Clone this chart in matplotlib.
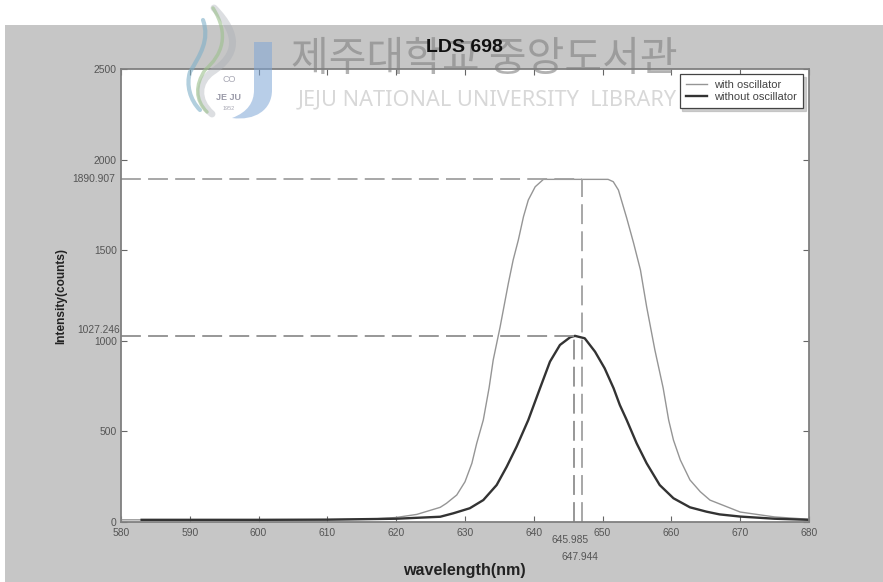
import matplotlib
matplotlib.use('Agg')
import matplotlib.pyplot as plt
from matplotlib.patches import PathPatch, Rectangle
from matplotlib.path import Path

plt.rcParams['font.family'] = ['Liberation Sans', 'DejaVu Sans']

W, H = 883, 582

# values
wl_with = [580, 590, 600, 610, 616, 620, 623, 626.4, 627.3, 628.8, 630, 631, 631.7, 632.66, 633.5, 634.1, 635.1,
           636.3, 637, 637.75, 638.5, 639.2, 640.2, 641.4, 645, 650.8, 651.55, 652.3, 653.5, 654.5, 655.5, 656.4,
           657.6, 658.8, 659.6, 660.3, 661.3, 662.7, 664.2, 665.6, 667, 670, 675, 680]
int_with = [12, 12, 12, 13, 15, 25, 42, 81, 103, 149, 222, 324, 434, 563, 740, 894, 1076,
            1317, 1446, 1556, 1685, 1777, 1850, 1890.9, 1890.9, 1890.9, 1878, 1832, 1678, 1540, 1391, 1188,
            949, 740, 563, 452, 342, 232, 167, 121, 100, 55, 28, 15]
wl_without = [583, 590, 600, 610, 620, 626.4, 628.3, 630.7, 632.66, 634.6, 636.06, 637.5, 639.2, 640.9, 642.35,
              643.8, 645.3, 645.985, 647.4, 648.9, 650.3, 651.6, 652.5, 653.5, 654.95, 656.4, 658.3, 660.3, 662.7,
              665.1, 667, 670, 675, 680]
int_without = [12, 12, 12, 13, 18, 29, 48, 76, 121, 204, 305, 416, 563, 738, 885,
               977, 1020, 1027.246, 1014, 940, 848, 738, 646, 563, 434, 324, 204, 131, 81,
               57, 42, 30, 18, 12]
# the dashed markers sit where the picture has them, the printed numbers differ slightly
drop_with = 646.95
drop_without = 645.87
level_with = 1890.907
level_without = 1027.246
xticks = [580, 590, 600, 610, 620, 630, 640, 650, 660, 670, 680]
yticks = [0, 500, 1000, 1500, 2000, 2500]
grey = '#c6c6c6'
edge = '#808080'
textc = '#555555'


def box(l, t, r, b):
    return [l / W, 1 - b / H, (r - l) / W, (b - t) / H]


def swoosh(ov, pts, color, lw, alpha):
    codes = [Path.MOVETO] + [Path.CURVE4] * (len(pts) - 1)
    ov.add_patch(PathPatch(Path(pts, codes), fc='none', ec=color, lw=lw, alpha=alpha, capstyle='round'))


fig = plt.figure(figsize=(W / 100, H / 100), dpi=100, facecolor='white')
fig.patches.append(Rectangle((5 / W, 0), 1, 1 - 25 / H, transform=fig.transFigure, fc=grey, ec='none', zorder=-1))

ax = fig.add_axes(box(121, 69, 809, 522))
ax.plot(wl_with, int_with, color='#959595', lw=1.0, label='with oscillator')
ax.plot(wl_without, int_without, color='#333333', lw=1.7, label='without oscillator')
dash = (0, (11, 4))
ax.plot([580, drop_with], [level_with] * 2, color='#a0a0a0', lw=1.3, ls=dash)
ax.plot([drop_with] * 2, [0, level_with], color='#a0a0a0', lw=1.3, ls=dash)
ax.plot([580, drop_without], [level_without] * 2, color='#8f8f8f', lw=1.3, ls=dash)
ax.plot([drop_without] * 2, [0, level_without], color='#8f8f8f', lw=1.3, ls=dash)
ax.set_xlim(580, 680)
ax.set_ylim(0, 2500)
ax.set_xticks(xticks)
ax.set_yticks(yticks)
ax.tick_params(direction='in', top=True, right=True, length=4.5, width=0.8, color='#666666',
               labelsize=7.4, labelcolor=textc, pad=3)
ax.tick_params(axis='x', pad=4.5)
for s in ax.spines.values():
    s.set_color(edge)
    s.set_linewidth(1.3)

leg = ax.legend(loc='upper right', bbox_to_anchor=(682 / 688, 1 - 5 / 453), fontsize=8,
                fancybox=False, shadow={'color': '#b8b8b8', 'alpha': 0.7}, framealpha=1, edgecolor='#444444',
                labelcolor='#444444', borderaxespad=0, handlelength=1.9, labelspacing=0.2, borderpad=0.55,
                handletextpad=0.65)
leg.get_frame().set_linewidth(0.9)

# peak labels
ax.annotate('1890.907', xy=(0, level_with), xycoords=ax.get_yaxis_transform(), xytext=(-4, 0),
            textcoords='offset points', ha='right', va='center', fontsize=7.4, color=textc)
ax.annotate('1027.246', xy=(0, level_without), xycoords=ax.get_yaxis_transform(), xytext=(-1, 4.5),
            textcoords='offset points', ha='right', va='center', fontsize=7.4, color=textc)

fig.text(570 / W, 1 - 540 / H, '645.985', ha='center', va='center', fontsize=7.4, color=textc)
fig.text(580 / W, 1 - 557 / H, '647.944', ha='center', va='center', fontsize=7.4, color=textc)
fig.text(464 / W, 1 - 47 / H, 'LDS 698', ha='center', va='center', fontsize=14, fontweight='bold', color='#111111')
fig.text(464 / W, 1 - 570 / H, 'wavelength(nm)', ha='center', va='center', fontsize=11.6, fontweight='bold', color='#222222')
fig.text(61 / W, 1 - 296 / H, 'Intensity(counts)', ha='center', va='center', rotation=90, fontsize=8.6,
         fontweight='bold', color='#222222')

# library watermark on top of everything
ov = fig.add_axes([0, 0, 1, 1], facecolor='none')
ov.set_xlim(0, W)
ov.set_ylim(H, 0)
ov.axis('off')
swoosh(ov, [(214, 8), (240, 35), (238, 55), (212, 72), (198, 82), (196, 100), (212, 114)], '#a9adb5', 5, 0.4)
swoosh(ov, [(213, 8), (230, 35), (222, 55), (205, 70), (195, 85), (195, 100), (207, 112)], '#9cc08c', 2.5, 0.6)
swoosh(ov, [(203, 20), (210, 40), (200, 55), (190, 72), (186, 85), (190, 100), (200, 110)], '#7fb0c8', 3, 0.6)
j_pts = [(254, 42), (272, 42), (272, 90), (272, 110), (255, 121), (232, 118), (248, 112), (254, 102), (254, 90), (254, 42)]
j_codes = [Path.MOVETO, Path.LINETO, Path.LINETO, Path.CURVE4, Path.CURVE4, Path.CURVE4, Path.CURVE4, Path.CURVE4,
           Path.CURVE4, Path.CLOSEPOLY]
ov.add_patch(PathPatch(Path(j_pts, j_codes), fc='#7fa6d6', ec='none', alpha=0.55))
ov.text(229, 80, 'CO', ha='center', va='center', fontsize=6.5, color='#a8a8b4')
ov.text(229, 97, 'JE JU', ha='center', va='center', fontsize=6.5, fontweight='bold', color='#9a9aa8')
ov.text(229, 108, '1952', ha='center', va='center', fontsize=4, color='#a8a8b4')
ov.text(484, 60, '제주대학교 중앙도서관', ha='center', va='center', fontsize=29.5, color='#808080', alpha=0.6,
        family=['Noto Sans CJK KR', 'DejaVu Sans'])
ov.text(487, 100, 'JEJU NATIONAL UNIVERSITY  LIBRARY', ha='center', va='center', fontsize=15.6, color='#b8b8b8',
        alpha=0.55, family=['Noto Sans', 'DejaVu Sans'])

fig.savefig('out.png', dpi=100, facecolor='white')
